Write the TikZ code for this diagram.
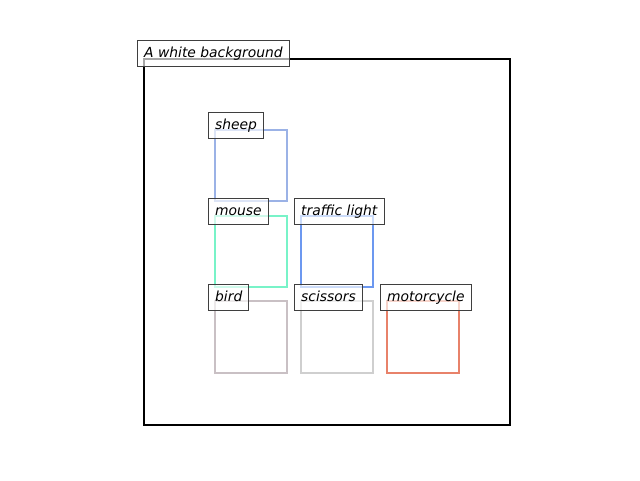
\documentclass[tikz,border=0pt]{standalone}
\usepackage{fontspec}
\setmainfont{DejaVu Sans}
\definecolor{csheep}{HTML}{9BB2E6}
\definecolor{cmouse}{HTML}{78F3C8}
\definecolor{ctraffic}{HTML}{6C98F0}
\definecolor{cbird}{HTML}{C9C0C4}
\definecolor{cscissors}{HTML}{CFCFCF}
\definecolor{cmoto}{HTML}{E8826A}
\definecolor{lblborder}{HTML}{3F3F3F}
\tikzset{
  objbox/.style={line width=1.5pt},
  lbl/.style={draw=lblborder, line width=0.75pt, fill=white, fill opacity=0.65, text opacity=1, draw opacity=1,
    anchor=south west, inner xsep=5pt, inner ysep=4.3pt, text height=8.2pt, text depth=2.8pt,
    font=\fontsize{10.4pt}{12pt}\selectfont\itshape}
}
\begin{document}
\begin{tikzpicture}[x=0.75pt,y=-0.75pt]
\useasboundingbox (0,0) rectangle (640,480);
\draw[line width=1.5pt] (144,59) rectangle (510,425);
\node[lbl] (bg) at (137,67) {A white background};
% boxes
\draw[objbox, csheep] (215,130) rectangle (287,201);
\draw[objbox, cmouse] (215,216) rectangle (287,287);
\draw[objbox, ctraffic] (301,216) rectangle (373,287);
\draw[objbox, cbird] (215,301) rectangle (287,373);
\draw[objbox, cscissors] (301,301) rectangle (373,373);
\draw[objbox, cmoto] (387,301) rectangle (459,373);
% labels
\node[lbl] (lsheep) at (208,139) {sheep};
\node[lbl] (lmouse) at (208,225) {mouse};
\node[lbl] (ltraffic) at (294,225) {traffic light};
\node[lbl] (lbird) at (208,311) {bird};
\node[lbl] (lscissors) at (294,311) {scissors};
\node[lbl] (lmoto) at (380,311) {motorcycle};
\end{tikzpicture}
\end{document}
